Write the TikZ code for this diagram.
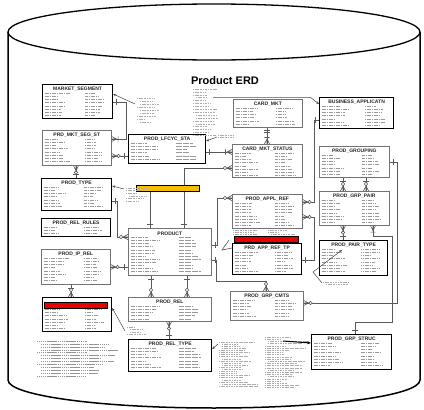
\documentclass[tikz,border=0pt]{standalone}
\usepackage{fontspec}
\setmainfont{Liberation Sans}
\usetikzlibrary{arrows.meta,calc}
\definecolor{ybarc}{RGB}{245,190,0}
\definecolor{rbarc}{RGB}{232,0,0}
\tikzset{
 thinbox/.style={draw=black!55, line width=0.6pt, fill=white, inner sep=0pt},
 thickbox/.style={draw=black, line width=1.2pt, fill=white, inner sep=0pt},
 etitle/.style={font=\bfseries\fontsize{5}{6}\selectfont, inner sep=0pt, text=black!85},
 conn/.style={draw=black!65, line width=0.6pt},
 txtbar/.style={draw=black!40, line width=0.7pt, dash pattern=on 1.3pt off 0.45pt},
 notebar/.style={draw=black!32, line width=0.55pt, dash pattern=on 1.2pt off 0.45pt},
 ptr/.style={draw=black!75, line width=0.5pt, -{Stealth[length=3pt,width=2.5pt]}},
 crowo/.pic={\draw[conn] (0,-2.6) -- (5,0) -- (0,2.6) (0,0) -- (5,0); \draw[conn,fill=white] (7,0) circle (1.7pt);},
 crowbar/.pic={\draw[conn] (0,-2.6) -- (5,0) -- (0,2.6) (0,0) -- (5,0) (6.5,-2.6) -- (6.5,2.6);},
 onebar/.pic={\draw[conn] (3.5,-2.6) -- (3.5,2.6);},
 twobar/.pic={\draw[conn] (3,-2.6) -- (3,2.6) (5,-2.6) -- (5,2.6);},
}
\newcommand\ent[7][thinbox]{%
 \pgfmathsetmacro\ew{#5-#3}\pgfmathsetmacro\eh{#6-#4}%
 \node[#1, minimum width=\ew pt, minimum height=\eh pt, anchor=north west] (#2) at (#3,#4) {};
 \node[etitle] (#2t) at ($(#2.north)+(0,5.3)$) {#7};
 \pgfmathtruncatemacro\nr{(\eh-11)/3.1+1}%
 \foreach \i in {1,...,\nr} {
   \pgfmathsetmacro\yy{#4+9.5+3.1*(\i-1)}
   \pgfmathsetmacro\la{0.16*\ew+rnd*0.22*\ew}
   \pgfmathsetmacro\lb{0.12*\ew+rnd*0.16*\ew}
   \draw[txtbar] (#3+2.5,\yy) -- ++(\la,0);
   \draw[txtbar] (#3+0.62*\ew,\yy) -- ++(\lb,0);
 }
}
\newcommand\notes[5]{%
 \foreach \i in {1,...,#4} {
   \pgfmathsetmacro\yy{#2+(\i-1)*#5}
   \pgfmathsetmacro\la{#3*(0.35+0.65*rnd)}
   \pgfmathsetmacro\ind{rnd<0.3 ? 3 : 0}
   \draw[notebar] (#1+\ind,\yy) -- ++(\la,0);
 }
}
\begin{document}
\begin{tikzpicture}[x=1pt,y=-1pt]
\pgfmathsetseed{7}
\useasboundingbox (0,0) rectangle (424,410);
% cylinder
\draw[line width=1.3pt] (214,32) ellipse [x radius=206pt, y radius=28pt];
\draw[line width=1.5pt] (8,32) -- (8,380) .. controls (8,395.5) and (100.2,408) .. (214,408)
   .. controls (327.8,408) and (420,395.5) .. (420,380) -- (420,32);
\node[font=\bfseries\fontsize{11}{13}\selectfont] (ttl) at (225,81) {Product ERD};

% entities
\ent[thickbox]{mseg}{42}{84}{112}{118}{MARKET\_SEGMENT}
\ent{pmss}{42}{130}{111}{165}{PRD\_MKT\_SEG\_ST}
\ent[thickbox]{plfc}{128}{134}{205}{163}{PROD\_LFCYC\_STA}
\ent{cmkt}{233}{99}{302}{127}{CARD\_MKT}
\ent[thickbox]{bapp}{319}{97}{393}{128}{BUSINESS\_APPLICATN}
\ent{cmks}{232}{144}{302}{177}{CARD\_MKT\_STATUS}
\ent{pgrp}{319}{146}{389}{177}{PROD\_GROUPING}
\ent[thickbox]{ptyp}{41}{178}{111}{210}{PROD\_TYPE}
\ent[thickbox]{prr}{41}{218}{110}{236}{PROD\_REL\_RULES}
\ent{prod}{128}{228}{211}{275}{PRODUCT}
\ent{pipr}{41}{249}{110}{284}{PROD\_IP\_REL}
\ent{pappl}{232}{194}{302}{228}{PROD\_APPL\_REF}
\ent{pgpair}{319}{191}{389}{225}{PROD\_GRP\_PAIR}
\ent[thickbox]{part}{232}{243}{301}{274}{PRD\_APP\_REF\_TP}
\ent[thickbox]{ppt}{319}{240}{387}{275}{PROD\_PAIR\_TYPE}
\ent[thickbox]{rbox}{42}{297}{111}{331}{}
\ent{prel}{128}{297}{211}{321}{PROD\_REL}
\ent[thickbox]{prelt}{128}{339}{211}{371}{PROD\_REL\_TYPE}
\ent{pgc}{230}{291}{303}{320}{PROD\_GRP\_CMTS}
\ent[thickbox]{pgs}{311}{334}{391}{369}{PROD\_GRP\_STRUC}

% connectors
\draw[conn] (mseg.east |- 0,102) -- (126,102) -- (126,139) -- (pmss.east |- 0,139);
\pic at (mseg.east |- 0,102) {onebar};
\pic at (pmss.east |- 0,139) {crowbar};

\draw[conn] (plfc.west |- 0,156) -- (pmss.east |- 0,156);
\pic at (pmss.east |- 0,156) {crowo};
\pic[rotate=180] at (plfc.west |- 0,156) {onebar};

\draw[conn] (pmss.south -| 76,0) -- (ptyp.north -| 76,0);
\pic[rotate=-90] at (pmss.south -| 76,0) {crowo};
\pic[rotate=90] at (ptyp.north -| 76,0) {onebar};

\draw[conn] (plfc.east |- 0,152) -- (cmks.west |- 0,152);
\pic at (plfc.east |- 0,152) {onebar};
\pic[rotate=180] at (cmks.west |- 0,152) {crowbar};

\draw[conn] (prod.north -| 184,0) -- (184,168) -- (cmks.west |- 0,168);
\pic[rotate=90] at (prod.north -| 184,0) {onebar};
\pic[rotate=180] at (cmks.west |- 0,168) {crowo};

\draw[conn] (150,191) -- (prod.north -| 150,0);
\pic[rotate=90] at (prod.north -| 150,0) {onebar};

\draw[conn] (ptyp.east |- 0,201) -- (117,201) -- (117,237) -- (prod.west |- 0,237);
\pic at (ptyp.east |- 0,201) {onebar};
\pic[rotate=180] at (prod.west |- 0,237) {crowo};

\draw[conn] (pipr.east |- 0,267) -- (prod.west |- 0,267);
\pic at (pipr.east |- 0,267) {crowo};
\pic[rotate=180] at (prod.west |- 0,267) {onebar};

\draw[conn] (pipr.south -| 71,0) -- (rbox.north -| 71,0);
\pic[rotate=-90] at (pipr.south -| 71,0) {onebar};
\pic[rotate=90] at (rbox.north -| 71,0) {crowo};

\foreach \xx in {151,187} {
  \draw[conn] (prod.south -| \xx,0) -- (prel.north -| \xx,0);
  \pic[rotate=-90] at (prod.south -| \xx,0) {onebar};
  \pic[rotate=90] at (prel.north -| \xx,0) {crowo};
}

\draw[conn] (prel.south -| 169,0) -- (prelt.north -| 169,0);
\pic[rotate=-90] at (prel.south -| 169,0) {crowo};
\pic[rotate=90] at (prelt.north -| 169,0) {onebar};

\draw[conn] (prod.east |- 0,245) -- (217,245) -- (217,198) -- (pappl.west |- 0,198);
\pic at (prod.east |- 0,245) {onebar};
\pic[rotate=180] at (pappl.west |- 0,198) {crowo};

\draw[conn] (prod.east |- 0,260) -- (216,260) -- (216,281) -- (266,281) -- (pgc.north -| 266,0);
\pic at (prod.east |- 0,260) {onebar};
\pic[rotate=90] at (pgc.north -| 266,0) {crowo};

\draw[conn] (bapp.west |- 0,120) -- (314,120) -- (314,202) -- (pappl.east |- 0,202);
\pic[rotate=180] at (bapp.west |- 0,120) {onebar};
\pic at (pappl.east |- 0,202) {crowo};

\draw[conn] (part.east |- 0,260) -- (314,260) -- (314,217) -- (pappl.east |- 0,217);
\pic at (part.east |- 0,260) {onebar};
\pic at (pappl.east |- 0,217) {crowo};

\foreach \xx in {343,366} {
  \draw[conn] (pgrp.south -| \xx,0) -- (pgpair.north -| \xx,0);
  \pic[rotate=-90] at (pgrp.south -| \xx,0) {onebar};
  \pic[rotate=90] at (pgpair.north -| \xx,0) {crowo};
}

\draw[conn] (pgpair.south -| 343,0) -- (ppt.north -| 343,0);
\pic[rotate=-90] at (pgpair.south -| 343,0) {crowo};
\pic[rotate=90] at (ppt.north -| 343,0) {onebar};

\draw[conn] (pgpair.south -| 373,0) -- (373,236) -- (392,236) -- (392,322) -- (355,322) -- (pgs.north -| 355,0);
\pic[rotate=-90] at (pgpair.south -| 373,0) {crowbar};
\pic[rotate=90] at (pgs.north -| 355,0) {onebar};

\draw[conn] (pgrp.east |- 0,162) -- (397,162) -- (397,303) -- (pgc.east |- 0,303);
\pic at (pgrp.east |- 0,162) {onebar};
\pic at (pgc.east |- 0,303) {crowo};

\draw[conn] (cmkt.south -| 267,0) -- (cmks.north -| 267,0);
\pic[rotate=-90] at (cmkt.south -| 267,0) {twobar};
\pic[rotate=90] at (cmks.north -| 267,0) {crowbar};

% bars over
\node[draw=black, line width=1pt, fill=ybarc, minimum width=63pt, minimum height=6pt, anchor=north west, inner sep=0pt] (ybar) at (136,185) {};
\node[draw=black, line width=1pt, fill=rbarc, minimum width=64pt, minimum height=6pt, anchor=north west, inner sep=0pt] (rbar) at (234,236) {};
\node[draw=black, line width=1pt, fill=rbarc, minimum width=63pt, minimum height=6pt, anchor=north west, inner sep=0pt] (rbar2) at (44,302) {};

% notes
\notes{137}{98}{20}{9}{3}
\coordinate (n1) at (135,104);
\draw[ptr] (n1) -- (mseg.east |- 0,94);
\notes{193}{89}{26}{17}{2.9}
\coordinate (n2) at (213,97);
\draw[draw=black!45, line width=1pt] (n2) -- (310,97);
\draw[ptr] (310,97) -- (bapp.west |- 0,104);
\notes{218}{135}{20}{2}{2.6}
\coordinate (n3) at (217,137);
\draw[ptr] (n3) -- (plfc.east |- 0,141);
\notes{126}{188}{26}{6}{2.6}
\coordinate (n4) at (124,189);
\draw[ptr] (n4) -- (ptyp.east |- 0,186);
\notes{233}{230}{30}{3}{2.1}
\notes{268}{230}{30}{3}{2.1}
\coordinate (n5) at (229,240);
\draw[conn] (n5) -- (222,250) -- (part.west |- 0,248);
\notes{127}{327}{20}{4}{2.5}
\coordinate (n6) at (125,331);
\draw[ptr] (n6) -- (rbox.east |- 0,308);
\foreach \i in {1,...,13} {
  \pgfmathsetmacro\yy{341+(\i-1)*2.95}
  \pgfmathsetmacro\la{45+rnd*35}
  \pgfmathsetmacro\ind{mod(\i,4)==1 ? 0 : 4}
  \draw[draw=black!42, line width=0.7pt, dash pattern=on 1.4pt off 0.5pt] (37+\ind,\yy) -- ++(\la,0);
}
\notes{323}{282}{28}{2}{2.5}
\coordinate (n8) at (322,283);
\draw[conn] (n8) -- (313,272);
\draw[ptr] (313,272) -- (342,250);
\notes{219}{342}{42}{22}{2.1}
\coordinate (n9) at (218,344);
\draw[ptr] (n9) -- (prelt.east |- 0,349);
\notes{265}{337}{40}{24}{2.2}
\coordinate (n10) at (283,341);
\draw[draw=black, line width=1pt, -{Stealth[length=4pt,width=3pt]}] (n10) -- (pgs.west |- 0,343);
\end{tikzpicture}
\end{document}
